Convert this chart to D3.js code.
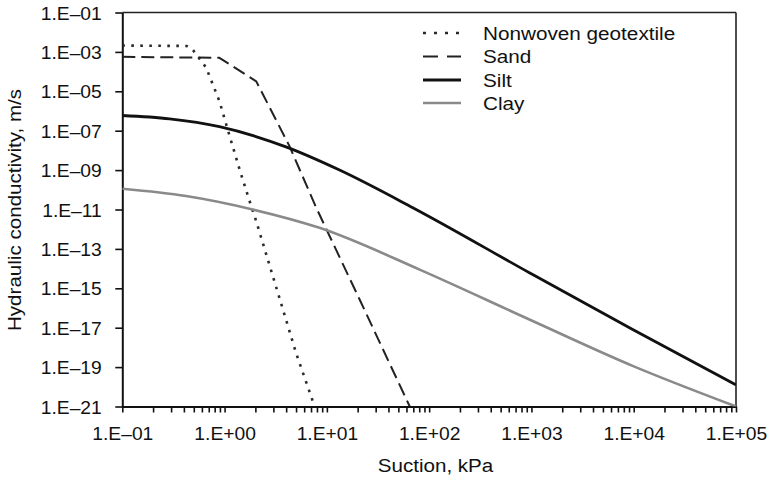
<!DOCTYPE html>
<html>
<head>
<meta charset="utf-8">
<script src="https://cdn.jsdelivr.net/npm/d3@7"></script>
<style>
  html, body { margin: 0; padding: 0; background: #fff; }
  svg { display: block; }
  text { font-family: "Liberation Sans", Arial, Helvetica, sans-serif; fill: #111; }
</style>
</head>
<body>
<svg id="chart" width="771" height="478"></svg>
<script>
// ---------- data ----------
const seriesNames = ["Nonwoven geotextile", "Sand", "Silt", "Clay"];

const nonwovenSuction = [0.1, 0.427, 0.49, 0.66, 0.89, 1.11, 1.40, 1.75, 2.04, 3.44, 5.01, 7.59];
const nonwovenK       = [2.1e-3, 2.0e-3, 1.26e-3, 1.6e-4, 3.2e-6, 6.3e-8, 1.1e-9, 2.8e-11, 2.5e-12, 3.2e-16, 5.0e-19, 1e-21];

const sandSuction = [0.1, 0.89, 2.04, 4.32, 7.87, 20.9, 64.6];
const sandK       = [5.6e-4, 5.0e-4, 3.2e-5, 1.6e-8, 1.23e-11, 2.7e-16, 1e-21];

const siltSuction = [0.1, 0.29, 0.89, 3.98, 13.3, 69.2, 955, 9772, 1e5];
const siltK       = [5.9e-7, 4.0e-7, 1.6e-7, 1.5e-8, 1.0e-9, 1.23e-11, 6.2e-15, 8.1e-18, 1.26e-20];

const claySuction = [0.1, 0.42, 1.88, 8.47, 80.7, 955, 9886, 1e5];
const clayK       = [1.12e-10, 4.8e-11, 1.0e-11, 1.17e-12, 8.9e-15, 2.6e-17, 1.12e-19, 1e-21];

const xMajorExponents = [-1, 0, 1, 2, 3, 4, 5];
const yMajorExponents = [-1, -3, -5, -7, -9, -11, -13, -15, -17, -19, -21];

const xTitle = "Suction, kPa";
const yTitle = "Hydraulic conductivity, m/s";

// ---------- layout ----------
const L = 122.3, R = 736, T = 12.5, B = 406.5;
const TICK_STRETCH = 1.1;      // reference font is wider than Arial
const TEXT_STRETCH = 1.12;
const svg = d3.select("#chart");

const x = d3.scaleLog().domain([1e-1, 1e5]).range([L, R]);
const y = d3.scaleLog().domain([1e-21, 1e-1]).range([B, T]);

function expLabel(e) {
  const sign = e < 0 ? "\u2013" : "+";
  const a = Math.abs(e);
  return "1.E" + sign + (a < 10 ? "0" + a : "" + a);
}

// ---------- frame (top/right) ----------
svg.append("line").attr("x1", L).attr("x2", R).attr("y1", T).attr("y2", T)
  .attr("stroke", "#222").attr("stroke-width", 1.6);
svg.append("line").attr("x1", R).attr("x2", R).attr("y1", T).attr("y2", B)
  .attr("stroke", "#222").attr("stroke-width", 1.6);

// ---------- x axis ----------
const xTickVals = [];
xMajorExponents.forEach(e => {
  xTickVals.push(Math.pow(10, e));
  if (e < 5) for (let m = 2; m <= 9; m++) xTickVals.push(m * Math.pow(10, e));
});
const majorSet = new Set(xMajorExponents.map(e => Math.pow(10, e)));

const xAxis = d3.axisBottom(x)
  .tickValues(xTickVals)
  .tickSize(6)
  .tickSizeOuter(0)
  .tickPadding(15)
  .tickFormat(d => majorSet.has(d) ? expLabel(Math.round(Math.log10(d))) : "");

const gx = svg.append("g").attr("transform", `translate(0,${B})`).call(xAxis);
gx.select(".domain").attr("stroke", "#111").attr("stroke-width", 2);
gx.selectAll(".tick line").attr("stroke", "#111").attr("stroke-width", 1.6);
gx.selectAll(".tick text")
  .attr("font-size", "17.5px")
  .attr("font-family", "'Liberation Sans', Arial, sans-serif")
  .attr("fill", "#111")
  .attr("transform", `scale(${TICK_STRETCH},1)`);

// ---------- y axis ----------
const yAxis = d3.axisLeft(y)
  .tickValues(yMajorExponents.map(e => Math.pow(10, e)))
  .tickSize(7)
  .tickSizeOuter(0)
  .tickPadding(11.7)
  .tickFormat(d => expLabel(Math.round(Math.log10(d))));

const gy = svg.append("g").attr("transform", `translate(${L},0)`).call(yAxis);
gy.select(".domain").attr("stroke", "#111").attr("stroke-width", 2);
gy.selectAll(".tick line").attr("stroke", "#111").attr("stroke-width", 1.6);
gy.selectAll(".tick text")
  .attr("font-size", "17.5px")
  .attr("font-family", "'Liberation Sans', Arial, sans-serif")
  .attr("fill", "#111")
  .attr("dy", "0.38em")
  .attr("transform", `scale(${TICK_STRETCH},1)`);

// ---------- axis titles ----------
svg.append("text")
  .attr("transform", `translate(435.5,471.5) scale(${TEXT_STRETCH},1)`)
  .attr("text-anchor", "middle")
  .attr("font-size", "18.4px")
  .text(xTitle);

svg.append("text")
  .attr("transform", `translate(21,210) rotate(-90) scale(${TEXT_STRETCH},1)`)
  .attr("text-anchor", "middle")
  .attr("font-size", "18.4px")
  .text(yTitle);

// ---------- series ----------
const styles = [
  { color: "#2a2a2a", width: 2.6, dash: "2.6,6.4", legendDash: "3,8" },
  { color: "#222222", width: 2.0, dash: "13,6",    legendDash: "15,9" },
  { color: "#111111", width: 2.8, dash: null,      legendDash: null },
  { color: "#8a8a8a", width: 2.6, dash: null,      legendDash: null }
];
const seriesData = [
  { s: nonwovenSuction, k: nonwovenK, curve: d3.curveLinear },
  { s: sandSuction,     k: sandK,     curve: d3.curveLinear },
  { s: siltSuction,     k: siltK,     curve: d3.curveMonotoneX },
  { s: claySuction,     k: clayK,     curve: d3.curveMonotoneX }
];

svg.append("clipPath").attr("id", "plotclip")
  .append("rect").attr("x", L).attr("y", T).attr("width", R - L).attr("height", B - T);

const plot = svg.append("g").attr("clip-path", "url(#plotclip)");

seriesData.forEach((sd, i) => {
  const pts = sd.s.map((v, j) => [v, sd.k[j]]);
  const line = d3.line().x(d => x(d[0])).y(d => y(d[1])).curve(sd.curve);
  const p = plot.append("path")
    .attr("d", line(pts))
    .attr("fill", "none")
    .attr("stroke", styles[i].color)
    .attr("stroke-width", styles[i].width)
    .attr("stroke-linejoin", "round");
  if (styles[i].dash) p.attr("stroke-dasharray", styles[i].dash);
});

// ---------- legend ----------
const legendRowsY = [33, 56.5, 80, 103];
const lg = svg.append("g");
seriesNames.forEach((name, i) => {
  const ly = legendRowsY[i];
  const l = lg.append("line")
    .attr("x1", 423).attr("x2", 461).attr("y1", ly).attr("y2", ly)
    .attr("stroke", styles[i].color)
    .attr("stroke-width", styles[i].width);
  if (styles[i].legendDash) l.attr("stroke-dasharray", styles[i].legendDash);
  lg.append("text")
    .attr("transform", `translate(483,${ly}) scale(${TEXT_STRETCH},1)`)
    .attr("dy", "0.36em")
    .attr("font-size", "18.5px")
    .text(name);
});
</script>
</body>
</html>
